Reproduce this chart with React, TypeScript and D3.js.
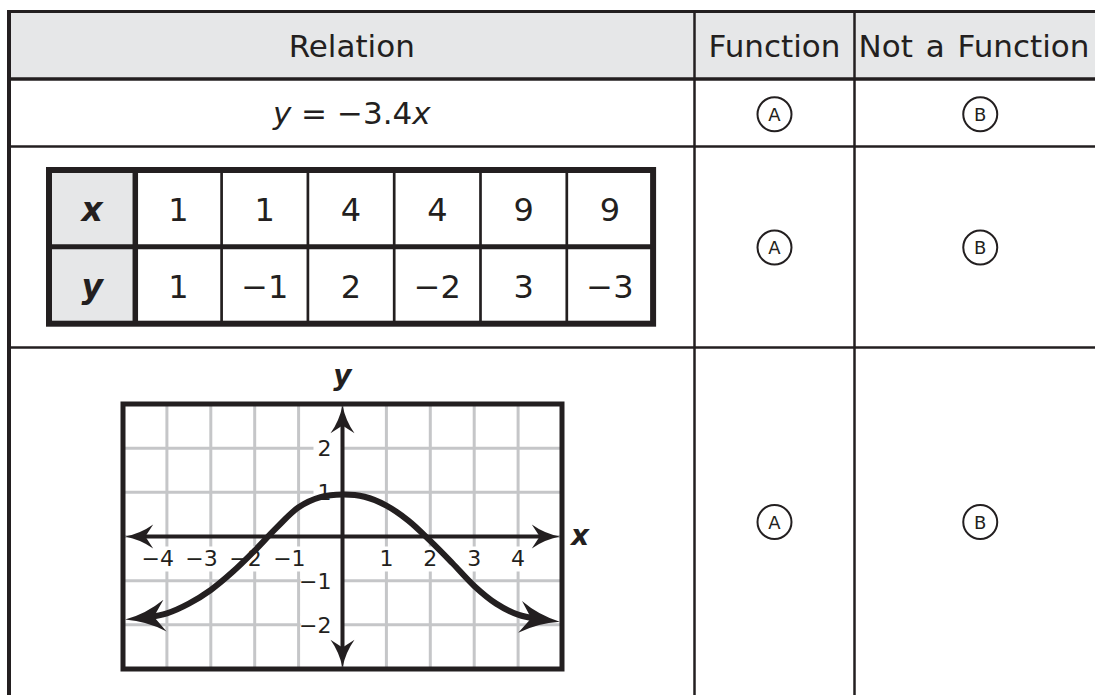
import React, { useEffect, useRef } from "react";
import * as d3 from "d3";

// header row and answer bubbles
const headers = ["Relation", "Function", "Not a Function"];
const choiceLetters = ["A", "B"];

// the x / y table in row 3
const tableRowNames = ["x", "y"];
const tableX = [1, 1, 4, 4, 9, 9];
const tableY = [1, -1, 2, -2, 3, -3];

// graph in row 4
const xTicks = [-4, -3, -2, -1, 1, 2, 3, 4];
const yTicks = [-2, -1, 1, 2];
const curveX = [-4.95, -4.5, -4, -3.5, -3, -2.5, -2, -1.5, -1, -0.5, 0, 0.5, 1, 1.5, 2, 2.5, 3, 3.5, 4, 4.5, 4.95];
const curveY = [-1.88, -1.84, -1.74, -1.52, -1.21, -0.8, -0.32, 0.2, 0.66, 0.89, 0.95, 0.9, 0.7, 0.36, -0.1, -0.6, -1.12, -1.52, -1.77, -1.88, -1.93];

const INK = "#231f20";
const GRAY_FILL = "#e6e7e8";
const GRID = "#c5c6c8";
const FONT = "'DejaVu Sans', Verdana, sans-serif";

// barbed arrowhead with its tip at (0,0), pointing along +x
function arrowPath(len: number, half: number) {
  return `M0,0 Q${-0.55 * len},${-0.25 * half} ${-len},${-half} L${-0.72 * len},0 L${-len},${half} Q${-0.55 * len},${0.25 * half} 0,0 Z`;
}

export default function App() {
  const ref = useRef<SVGSVGElement>(null);

  useEffect(() => {
    const svg = d3.select(ref.current);
    svg.selectAll("*").remove();

    // ---- outer table ----
    const colEdges = [9, 694.5, 854.5, 1106];
    const rowEdges = [11.5, 79, 146.5, 347.5, 710];
    const colMid = (i: number) => (colEdges[i] + colEdges[i + 1]) / 2;
    const rowMid = (i: number) => (rowEdges[i] + rowEdges[i + 1]) / 2;

    svg.append("rect")
      .attr("x", colEdges[0]).attr("y", rowEdges[0])
      .attr("width", 1200).attr("height", rowEdges[1] - rowEdges[0])
      .attr("fill", GRAY_FILL);

    headers.forEach((h, i) => {
      // last header runs to the right edge of the picture, so start it at the rule
      const last = i == headers.length - 1;
      svg.append("text")
        .attr("x", last ? colEdges[i] + 4 : colMid(i)).attr("y", 56.5)
        .attr("text-anchor", last ? "start" : "middle")
        .attr("font-family", FONT).attr("font-size", 31)
        .attr("word-spacing", last ? 3 : 0)
        .attr("fill", INK)
        .text(h);
    });

    // y = -3.4x
    const eq = svg.append("text")
      .attr("x", colMid(0)).attr("y", rowMid(1) + 11)
      .attr("text-anchor", "middle")
      .attr("font-family", FONT).attr("font-size", 31)
      .attr("fill", INK);
    eq.append("tspan").attr("font-style", "italic").text("y");
    eq.append("tspan").text(" = " + d3.format("")(-3.4));
    eq.append("tspan").attr("font-style", "italic").text("x");

    // bubbles
    const bubbleRows = [rowMid(1) + 1.5, rowMid(2) + 0.5, 522];
    bubbleRows.forEach((cy) => {
      choiceLetters.forEach((letter, j) => {
        const cx = colMid(j + 1);
        svg.append("circle")
          .attr("cx", cx).attr("cy", cy).attr("r", 17)
          .attr("fill", "white").attr("stroke", INK).attr("stroke-width", 2);
        svg.append("text")
          .attr("x", cx).attr("y", cy + 6.5)
          .attr("text-anchor", "middle")
          .attr("font-family", FONT).attr("font-size", 18)
          .attr("fill", INK)
          .text(letter);
      });
    });

    // table grid lines
    const hline = (yy: number, w: number) =>
      svg.append("line").attr("x1", colEdges[0]).attr("x2", 1200)
        .attr("y1", yy).attr("y2", yy).attr("stroke", INK).attr("stroke-width", w);
    hline(rowEdges[0], 3);
    hline(rowEdges[1], 3.5);
    hline(rowEdges[2], 2.5);
    hline(rowEdges[3], 2.5);
    [1, 2].forEach((i) => {
      svg.append("line").attr("x1", colEdges[i]).attr("x2", colEdges[i])
        .attr("y1", rowEdges[0]).attr("y2", 710)
        .attr("stroke", INK).attr("stroke-width", 2.5);
    });
    svg.append("line").attr("x1", colEdges[0]).attr("x2", colEdges[0])
      .attr("y1", rowEdges[0] - 1.5).attr("y2", 710)
      .attr("stroke", INK).attr("stroke-width", 4);

    // ---- inner x/y table ----
    const tLeft = 49, tTop = 170, cw = 86.3, rh = 76.85;
    const col = d3.scaleLinear().domain([0, 7]).range([tLeft, tLeft + 7 * cw]);
    const row = d3.scaleLinear().domain([0, 2]).range([tTop, tTop + 2 * rh]);

    svg.append("rect")
      .attr("x", col(0)).attr("y", row(0))
      .attr("width", cw).attr("height", 2 * rh)
      .attr("fill", GRAY_FILL);

    d3.range(2, 7).forEach((c) => {
      svg.append("line").attr("x1", col(c)).attr("x2", col(c))
        .attr("y1", row(0)).attr("y2", row(2))
        .attr("stroke", INK).attr("stroke-width", 2.7);
    });
    svg.append("line").attr("x1", col(1)).attr("x2", col(1))
      .attr("y1", row(0)).attr("y2", row(2))
      .attr("stroke", INK).attr("stroke-width", 5.5);
    svg.append("line").attr("x1", col(0)).attr("x2", col(7))
      .attr("y1", row(1)).attr("y2", row(1))
      .attr("stroke", INK).attr("stroke-width", 5);
    svg.append("rect")
      .attr("x", col(0)).attr("y", row(0))
      .attr("width", 7 * cw).attr("height", 2 * rh)
      .attr("fill", "none").attr("stroke", INK).attr("stroke-width", 6);

    const fmt = d3.format("d");
    [tableX, tableY].forEach((vals, r) => {
      const base = row(r + 0.5) + 12.5;
      svg.append("text")
        .attr("x", col(0.5)).attr("y", base)
        .attr("text-anchor", "middle")
        .attr("font-family", FONT).attr("font-size", 33)
        .attr("font-weight", "bold").attr("font-style", "italic")
        .attr("fill", INK)
        .text(tableRowNames[r]);
      vals.forEach((v, c) => {
        svg.append("text")
          .attr("x", col(c + 1.5)).attr("y", base)
          .attr("text-anchor", "middle")
          .attr("font-family", FONT).attr("font-size", 32)
          .attr("fill", INK)
          .text(fmt(v));
      });
    });

    // ---- graph ----
    const x = d3.scaleLinear().domain([-5, 5]).range([123, 562]);
    const y = d3.scaleLinear().domain([-3, 3]).range([669, 404]);
    const g = svg.append("g");

    d3.range(-4, 5).forEach((v) => {
      g.append("line").attr("x1", x(v)).attr("x2", x(v))
        .attr("y1", y(3)).attr("y2", y(-3))
        .attr("stroke", GRID).attr("stroke-width", 3);
    });
    d3.range(-2, 3).forEach((v) => {
      g.append("line").attr("x1", x(-5)).attr("x2", x(5))
        .attr("y1", y(v)).attr("y2", y(v))
        .attr("stroke", GRID).attr("stroke-width", 3);
    });

    // tick labels with white knock-outs behind them
    xTicks.forEach((v) => {
      const t = g.append("text")
        .attr("x", x(v) + 7).attr("y", y(0) + 29)
        .attr("text-anchor", "end")
        .attr("font-family", FONT).attr("font-size", 22)
        .attr("fill", INK)
        .text(fmt(v));
      const b = (t.node() as SVGTextElement).getBBox();
      g.insert("rect", "text")
        .attr("x", b.x - 2).attr("y", b.y + 1)
        .attr("width", b.width + 4).attr("height", b.height)
        .attr("fill", "white");
    });
    yTicks.forEach((v) => {
      const t = g.append("text")
        .attr("x", x(0) - 11).attr("y", y(v) + 8)
        .attr("text-anchor", "end")
        .attr("font-family", FONT).attr("font-size", 22)
        .attr("fill", INK)
        .text(fmt(v));
      const b = (t.node() as SVGTextElement).getBBox();
      const left = Math.max(b.x - 4, x(-1) + 2);
      g.insert("rect", "text")
        .attr("x", left).attr("y", b.y + 3)
        .attr("width", x(0) - left).attr("height", b.height - 6)
        .attr("fill", "white");
    });

    // frame
    g.append("rect")
      .attr("x", x(-5)).attr("y", y(3))
      .attr("width", x(5) - x(-5)).attr("height", y(-3) - y(3))
      .attr("fill", "none").attr("stroke", INK).attr("stroke-width", 5);

    // axes with arrowheads
    const axL = 28, axW = 12;
    const axisArrow = (px: number, py: number, ang: number) =>
      g.append("path").attr("d", arrowPath(axL, axW))
        .attr("transform", `translate(${px},${py}) rotate(${ang})`)
        .attr("fill", INK);
    g.append("line").attr("x1", x(-4.95) + 15).attr("x2", x(4.95) - 15)
      .attr("y1", y(0)).attr("y2", y(0))
      .attr("stroke", INK).attr("stroke-width", 4);
    g.append("line").attr("x1", x(0)).attr("x2", x(0))
      .attr("y1", y(2.97) + 15).attr("y2", y(-2.97) - 15)
      .attr("stroke", INK).attr("stroke-width", 4);
    axisArrow(x(4.95), y(0), 0);
    axisArrow(x(-4.95), y(0), 180);
    axisArrow(x(0), y(2.97), -90);
    axisArrow(x(0), y(-2.97), 90);

    // the curve
    const line = d3.line<number>()
      .x((d) => x(d))
      .y((d, i) => y(curveY[i]))
      .curve(d3.curveCatmullRom.alpha(0.5));
    const cL = 40, cW = 16, cut = 24;
    const path = g.append("path")
      .attr("d", line(curveX))
      .attr("fill", "none").attr("stroke", INK).attr("stroke-width", 6);
    const node = path.node() as SVGPathElement;
    const total = node.getTotalLength();
    path.attr("stroke-dasharray", `0 ${cut} ${total - 2 * cut} ${cut}`);
    const ends = [
      [node.getPointAtLength(0), node.getPointAtLength(cut)],
      [node.getPointAtLength(total), node.getPointAtLength(total - cut)],
    ];
    ends.forEach(([tip, back]) => {
      const ang = (Math.atan2(tip.y - back.y, tip.x - back.x) * 180) / Math.PI;
      g.append("path").attr("d", arrowPath(cL, cW))
        .attr("transform", `translate(${tip.x},${tip.y}) rotate(${ang})`)
        .attr("fill", INK);
    });

    // axis names
    g.append("text")
      .attr("x", x(0)).attr("y", 385)
      .attr("text-anchor", "middle")
      .attr("font-family", FONT).attr("font-size", 28)
      .attr("font-weight", "bold").attr("font-style", "italic")
      .attr("fill", INK).text("y");
    g.append("text")
      .attr("x", 580).attr("y", y(0) + 8)
      .attr("text-anchor", "middle")
      .attr("font-family", FONT).attr("font-size", 28)
      .attr("font-weight", "bold").attr("font-style", "italic")
      .attr("fill", INK).text("x");
  }, []);

  return (
    <svg
      ref={ref}
      width={1095}
      height={695}
      style={{ position: "absolute", left: 0, top: 0, background: "white" }}
    />
  );
}
